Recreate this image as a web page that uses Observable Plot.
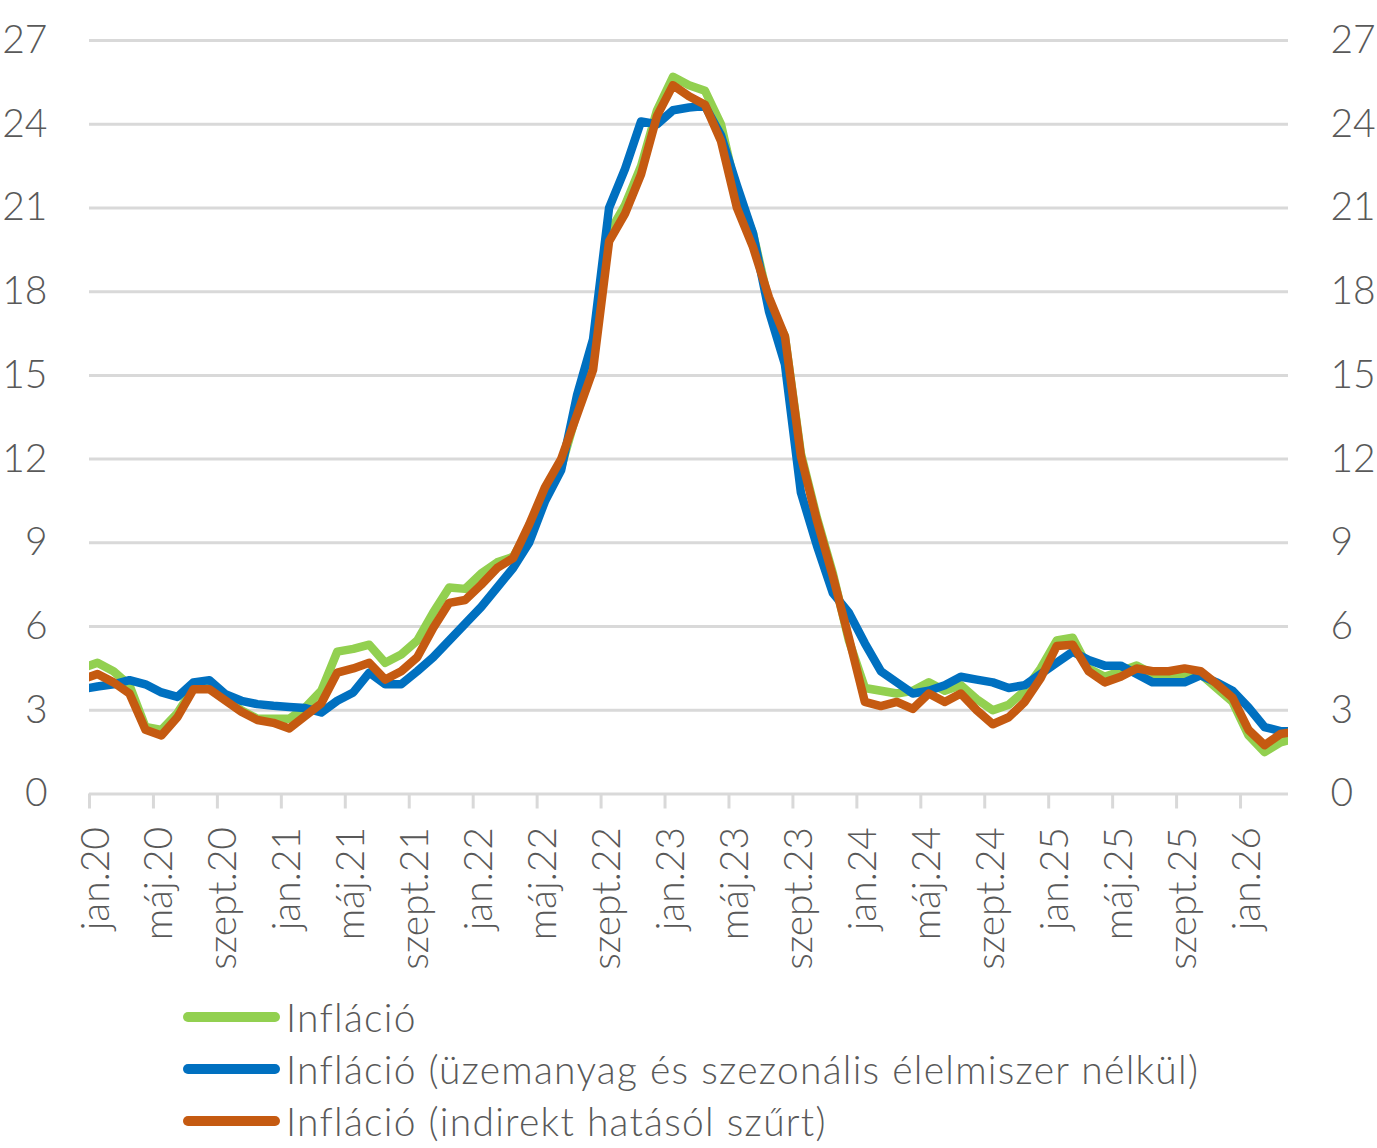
<!DOCTYPE html>
<html>
<head>
<meta charset="utf-8">
<script src="https://cdn.jsdelivr.net/npm/d3@7"></script>
<script src="https://cdn.jsdelivr.net/npm/@observablehq/plot@0.6"></script>
<style>
  body { margin: 0; background: #fff; font-family: Lato, "Open Sans", sans-serif; font-weight: 300; color: #595959; }
  #chart svg { display: block; }
  .legend { margin-left: 183px; margin-top: 6px; }
  .row { display: flex; align-items: center; height: 52px; font-size: 39px; letter-spacing: 1.25px; white-space: nowrap; }
  .sw { width: 97px; height: 10px; border-radius: 5px; margin-right: 6px; flex: none; }
</style>
</head>
<body>
<div id="chart"></div>
<div class="legend" id="legend"></div>
<script>
// Monthly series, dec.19 .. apr.26 (the first and last month fall outside the frame and are clipped)
const inflacio = [
  4.5,
  4.7, 4.4, 3.9, 2.4, 2.3, 2.9, 3.8, 3.9, 3.4, 3.0, 2.7, 2.7,
  2.7, 3.1, 3.7, 5.1, 5.2, 5.35, 4.7, 5.0, 5.5, 6.5, 7.4, 7.35,
  7.9, 8.3, 8.5, 9.5, 10.7, 11.7, 13.7, 15.6, 20.1, 21.1, 22.5, 24.5,
  25.7, 25.4, 25.2, 24.0, 21.5, 20.1, 17.6, 16.4, 12.2, 9.9, 7.9, 5.5,
  3.8, 3.7, 3.6, 3.7, 4.0, 3.7, 3.9, 3.4, 3.0, 3.2, 3.7, 4.5,
  5.5, 5.6, 4.5, 4.2, 4.4, 4.6, 4.3, 4.3, 4.3, 4.3, 3.8, 3.3,
  2.1, 1.5, 1.85, 2.0
];
const inflacioMag = [
  3.75,
  3.85, 3.93, 4.08, 3.93, 3.64, 3.48, 4.0, 4.08, 3.58, 3.34, 3.22, 3.16,
  3.12, 3.08, 2.92, 3.34, 3.64, 4.35, 3.93, 3.93, 4.4, 4.9, 5.5, 6.1,
  6.7, 7.4, 8.1, 9.0, 10.5, 11.6, 14.3, 16.3, 21.0, 22.4, 24.1, 24.0,
  24.5, 24.6, 24.65, 23.6, 21.8, 20.1, 17.3, 15.4, 10.8, 8.9, 7.2, 6.5,
  5.4, 4.4, 4.0, 3.6, 3.7, 3.9, 4.2, 4.1, 4.0, 3.8, 3.9, 4.3,
  4.7, 5.1, 4.8, 4.6, 4.6, 4.3, 4.0, 4.0, 4.0, 4.25, 4.0, 3.7,
  3.1, 2.4, 2.25, 2.25
];
const inflacioSzurt = [
  4.1,
  4.3, 4.0, 3.6, 2.3, 2.1, 2.75, 3.75, 3.75, 3.35, 2.95, 2.65, 2.55,
  2.35, 2.8, 3.25, 4.35, 4.5, 4.7, 4.1, 4.4, 4.9, 5.95, 6.85, 6.95,
  7.5, 8.1, 8.45, 9.65, 11.0, 12.0, 13.6, 15.2, 19.8, 20.8, 22.2, 24.3,
  25.4, 25.0, 24.7, 23.4, 21.0, 19.6, 17.8, 16.4, 12.1, 9.8, 7.8, 5.6,
  3.3, 3.15, 3.3, 3.05, 3.6, 3.3, 3.6, 3.0, 2.5, 2.75, 3.3, 4.15,
  5.3, 5.35, 4.4, 4.0, 4.2, 4.5, 4.4, 4.4, 4.5, 4.4, 3.95, 3.45,
  2.3, 1.75, 2.15, 2.25
];

const seriesNames = [
  "Infláció",
  "Infláció (üzemanyag és szezonális élelmiszer nélkül)",
  "Infláció (indirekt hatásól szűrt)"
];
const seriesColors = ["#92D050", "#0070C0", "#C55A11"];

const xLabels = [
  "jan.20", "máj.20", "szept.20", "jan.21", "máj.21", "szept.21",
  "jan.22", "máj.22", "szept.22", "jan.23", "máj.23", "szept.23",
  "jan.24", "máj.24", "szept.24", "jan.25", "máj.25", "szept.25", "jan.26"
];
const yTicks = [0, 3, 6, 9, 12, 15, 18, 21, 24, 27];

// month index 0 = jan.20; a month occupies [i, i+1) and its value sits in the middle
const xTicks = xLabels.map((_, k) => k * 4);
const toRows = (values) => values.map((v, j) => ({ m: j - 1 + 0.5, v }));
const allSeries = [inflacio, inflacioMag, inflacioSzurt];

const textColor = "#595959";
const gridColor = "#d9d9d9";

const chart = Plot.plot({
  width: 1377,
  height: 985,
  marginLeft: 89,
  marginRight: 89,
  marginTop: 40,
  marginBottom: 191.5,
  style: { fontFamily: "Lato, 'Open Sans', sans-serif", fontWeight: 300, color: textColor, background: "#fff" },
  x: { domain: [0, 75] },
  y: { domain: [0, 27] },
  marks: [
    Plot.ruleY(yTicks, { stroke: gridColor, strokeWidth: 3 }),
    Plot.axisX({ ticks: xTicks, tickSize: 15, tickFormat: () => "", color: gridColor, strokeWidth: 3, label: null }),
    Plot.text(xTicks, {
      x: (d) => d,
      frameAnchor: "bottom",
      text: (d, i) => xLabels[i],
      rotate: -90,
      textAnchor: "end",
      dy: 33,
      dx: 19,
      fontSize: 39,
      fill: textColor
    }),
    Plot.axisY({ anchor: "left", ticks: yTicks, tickSize: 0, tickPadding: 42, fontSize: 39, color: textColor, label: null }),
    Plot.axisY({ anchor: "right", ticks: yTicks, tickSize: 0, tickPadding: 42, fontSize: 39, color: textColor, label: null }),
    ...allSeries.map((values, s) =>
      Plot.line(toRows(values), {
        x: "m",
        y: "v",
        stroke: seriesColors[s],
        strokeWidth: 8.5,
        strokeLinejoin: "round",
        strokeLinecap: "butt",
        clip: true
      })
    )
  ]
});
document.getElementById("chart").appendChild(chart);

const legend = document.getElementById("legend");
seriesNames.forEach((name, s) => {
  const row = document.createElement("div");
  row.className = "row";
  const sw = document.createElement("span");
  sw.className = "sw";
  sw.style.background = seriesColors[s];
  const label = document.createElement("span");
  label.textContent = name;
  row.append(sw, label);
  legend.appendChild(row);
});
</script>
</body>
</html>
